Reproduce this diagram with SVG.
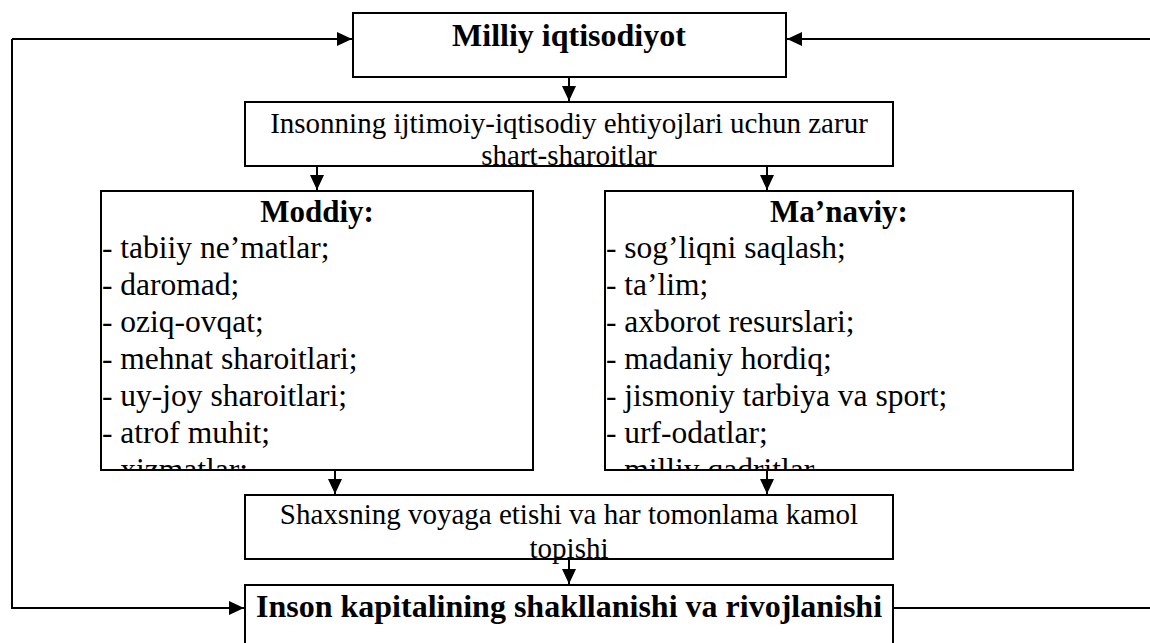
<svg xmlns="http://www.w3.org/2000/svg" width="1150" height="643" viewBox="0 0 1150 643">
<style>
.box{fill:none;stroke:#000;stroke-width:2}
.t{font-family:"Liberation Serif","Times New Roman",serif;fill:#000}
.r29{font-size:29px}
.r31{font-size:31.5px}
.b32{font-size:32px;font-weight:bold}
.b31{font-size:31px;font-weight:bold}
.c{text-anchor:middle}
.con{fill:none;stroke:#000;stroke-width:2}
</style>
<defs>
<marker id="ah" markerUnits="userSpaceOnUse" markerWidth="15" markerHeight="14" refX="15" refY="7" orient="auto">
<path d="M0,0 L15,7 L0,14 Z" fill="#000"/>
</marker>
<clipPath id="clipM"><rect x="101" y="191" width="432" height="279"/></clipPath>
<clipPath id="clipN"><rect x="605" y="191" width="468" height="279"/></clipPath>
</defs>
<rect width="1150" height="643" fill="#fff"/>

<g id="connectors">
<path class="con" d="M12,39 H352" marker-end="url(#ah)"/>
<path class="con" d="M12,39 V608 H244" marker-end="url(#ah)"/>
<path class="con" d="M1150,39 H787" marker-end="url(#ah)"/>
<path class="con" d="M893,608 H1150"/>
<path class="con" d="M569,77 V101" marker-end="url(#ah)"/>
<path class="con" d="M317,166 V190" marker-end="url(#ah)"/>
<path class="con" d="M767,166 V190" marker-end="url(#ah)"/>
<path class="con" d="M335,470 V494" marker-end="url(#ah)"/>
<path class="con" d="M767,470 V494" marker-end="url(#ah)"/>
<path class="con" d="M569,559 V584" marker-end="url(#ah)"/>
</g>

<g id="node-milliy">
<rect x="353" y="13" width="433" height="64" fill="#fff"/>
<text class="t b32 c" x="569" y="46">Milliy iqtisodiyot</text>
<rect class="box" x="353" y="13" width="433" height="64"/>
</g>

<g id="node-ehtiyojlar">
<rect x="245" y="102" width="648" height="64" fill="#fff"/>
<text class="t r29 c" x="569" y="133">Insonning ijtimoiy-iqtisodiy ehtiyojlari uchun zarur</text>
<text class="t r29 c" x="569" y="165">shart-sharoitlar</text>
<rect class="box" x="245" y="102" width="648" height="64"/>
</g>

<g id="node-moddiy">
<rect x="101" y="191" width="432" height="279" fill="#fff"/>
<g clip-path="url(#clipM)">
<text class="t b31 c" x="317" y="222">Moddiy:</text>
<text class="t r31" x="102" y="258">- tabiiy ne’matlar;</text>
<text class="t r31" x="102" y="295">- daromad;</text>
<text class="t r31" x="102" y="332">- oziq-ovqat;</text>
<text class="t r31" x="102" y="369">- mehnat sharoitlari;</text>
<text class="t r31" x="102" y="406">- uy-joy sharoitlari;</text>
<text class="t r31" x="102" y="443">- atrof muhit;</text>
<text class="t r31" x="102" y="480">- xizmatlar;</text>
</g>
<rect class="box" x="101" y="191" width="432" height="279"/>
</g>

<g id="node-manaviy">
<rect x="605" y="191" width="468" height="279" fill="#fff"/>
<g clip-path="url(#clipN)">
<text class="t b31 c" x="839" y="222">Ma’naviy:</text>
<text class="t r31" x="606" y="258">- sog’liqni saqlash;</text>
<text class="t r31" x="606" y="295">- ta’lim;</text>
<text class="t r31" x="606" y="332">- axborot resurslari;</text>
<text class="t r31" x="606" y="369">- madaniy hordiq;</text>
<text class="t r31" x="606" y="406">- jismoniy tarbiya va sport;</text>
<text class="t r31" x="606" y="443">- urf-odatlar;</text>
<text class="t r31" x="606" y="480">- milliy qadritlar</text>
</g>
<rect class="box" x="605" y="191" width="468" height="279"/>
</g>

<g id="node-shaxs">
<rect x="245" y="495" width="648" height="64" fill="#fff"/>
<text class="t r29 c" x="569" y="524">Shaxsning voyaga etishi va har tomonlama kamol</text>
<text class="t r29 c" x="569" y="558">topishi</text>
<rect class="box" x="245" y="495" width="648" height="64"/>
</g>

<g id="node-inson-kapitali">
<rect x="245" y="585" width="648" height="70" fill="#fff"/>
<text class="t b32 c" x="569" y="617">Inson kapitalining shakllanishi va rivojlanishi</text>
<rect class="box" x="245" y="585" width="648" height="70"/>
</g>
</svg>
